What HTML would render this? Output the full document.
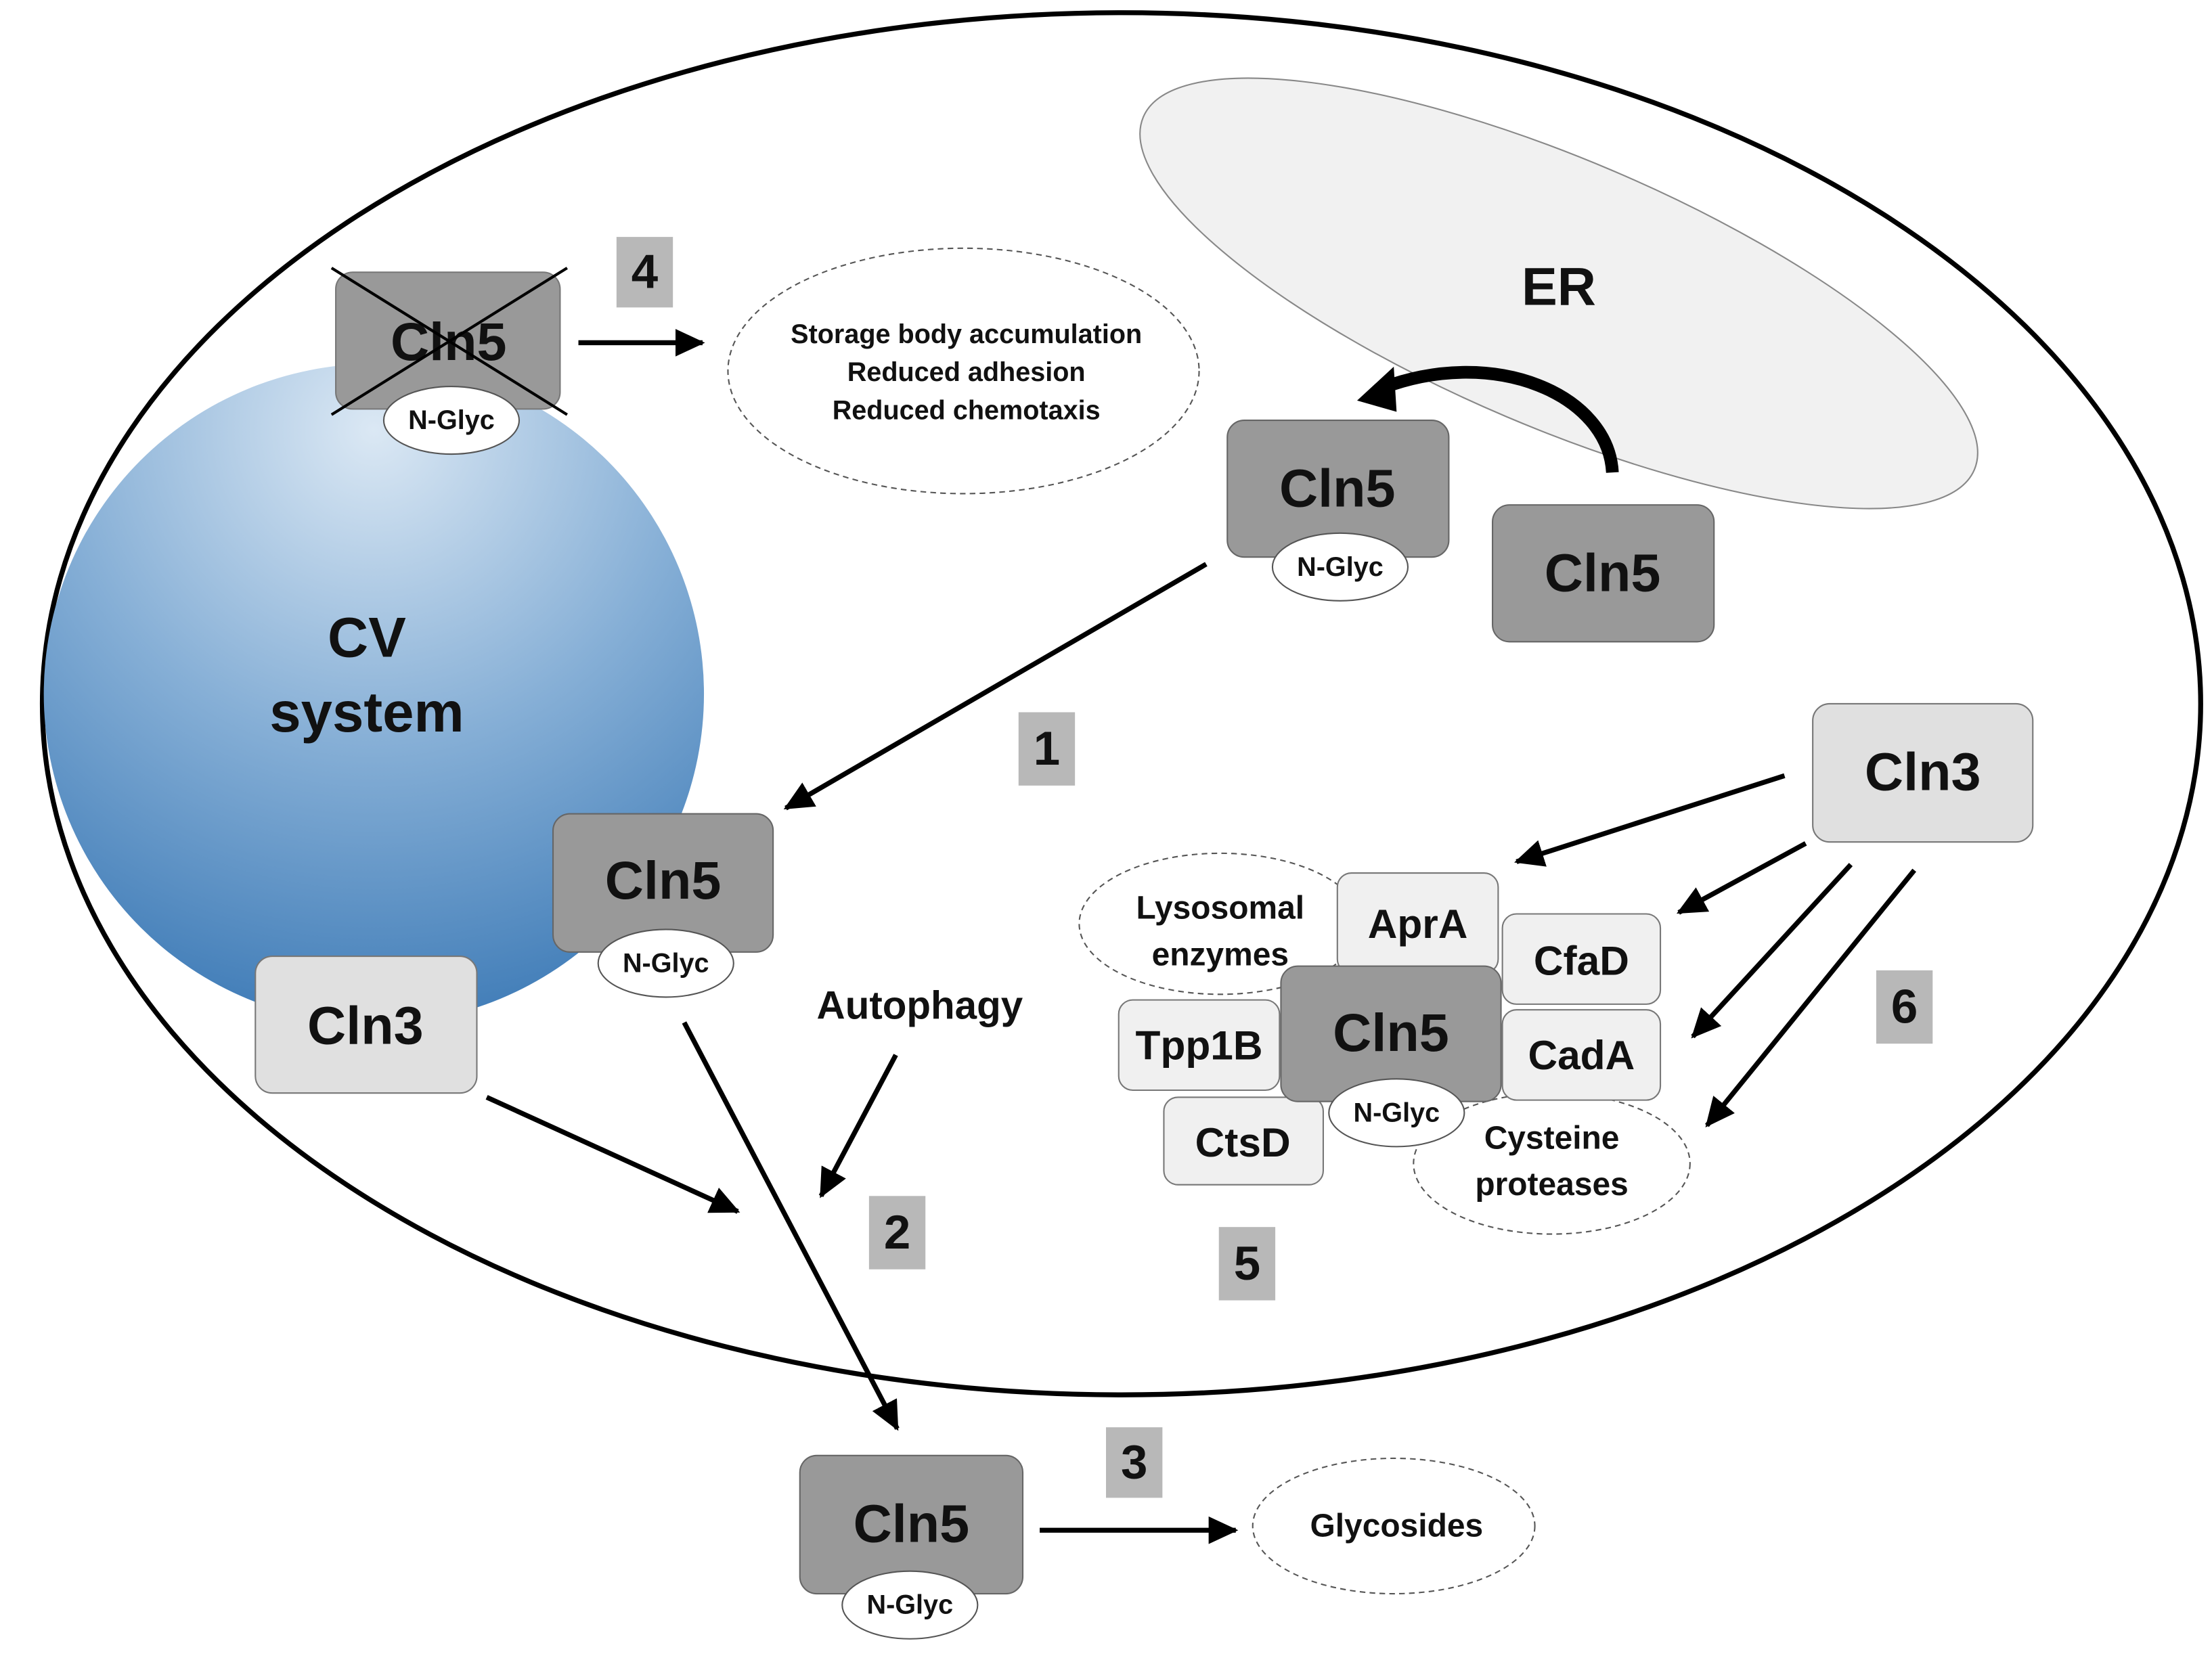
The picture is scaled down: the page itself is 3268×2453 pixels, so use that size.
<!DOCTYPE html>
<html><head><meta charset="utf-8"><style>
html,body{margin:0;padding:0;background:#fff;}
svg{display:block;}
text{font-family:"Liberation Sans",Arial,sans-serif;font-weight:bold;text-anchor:middle;dominant-baseline:central;fill:#111;}
</style></head><body>
<svg width="3268" height="2453" viewBox="0 0 1568 1177" xmlns="http://www.w3.org/2000/svg">
<defs>
<radialGradient id="cv" cx="0.5" cy="0.1" r="0.95">
<stop offset="0" stop-color="#dbe8f4"/><stop offset="0.5" stop-color="#86afd6"/><stop offset="1" stop-color="#3a78b5"/>
</radialGradient>
<marker id="ah" markerWidth="7" markerHeight="7" refX="5.5" refY="3.5" orient="auto" markerUnits="strokeWidth">
<path d="M0,0.7 L6,3.5 L0,6.3 Z" fill="#000"/></marker>
</defs>
<rect width="1568" height="1177" fill="#fff"/>
<ellipse cx="795" cy="499" rx="765" ry="490" fill="#fff" stroke="#000" stroke-width="3.5"/>
<ellipse cx="1105" cy="208" rx="320" ry="95" transform="rotate(23 1105 208)" fill="#f1f1f1" stroke="#888" stroke-width="1"/>
<circle cx="265" cy="492" r="234" fill="url(#cv)"/>
<text x="260" y="452" font-size="40">CV</text>
<text x="260" y="505" font-size="40">system</text>
<text x="1105" y="203" font-size="38">ER</text>

<rect x="238" y="193" width="159" height="97" rx="12" fill="#999" stroke="#777"/>
<text x="318" y="242" font-size="38">Cln5</text>
<ellipse cx="320" cy="298" rx="48" ry="24" fill="#fff" stroke="#555"/>
<text x="320" y="298" font-size="19" font-weight="normal">N-Glyc</text>
<line x1="235" y1="190" x2="402" y2="294" stroke="#000" stroke-width="2"/>
<line x1="402" y1="190" x2="235" y2="294" stroke="#000" stroke-width="2"/>
<rect x="437" y="168" width="40" height="50" fill="#b8b8b8"/><text x="457" y="193" font-size="34">4</text>
<line x1="410" y1="243" x2="498" y2="243" stroke="#000" stroke-width="3.5" marker-end="url(#ah)"/>
<ellipse cx="683" cy="263" rx="167" ry="87" fill="#fff" stroke="#555" stroke-dasharray="4 3"/>
<text x="685" y="237" font-size="19">Storage body accumulation</text>
<text x="685" y="264" font-size="19">Reduced adhesion</text>
<text x="685" y="291" font-size="19">Reduced chemotaxis</text>

<path d="M1143,335 C1140,280 1060,245 980,275" fill="none" stroke="#000" stroke-width="9"/>
<path d="M962,284 L988,260 L990,292 Z" fill="#000"/>
<rect x="870" y="298" width="157" height="97" rx="12" fill="#999" stroke="#666"/>
<text x="948" y="346" font-size="38">Cln5</text>
<ellipse cx="950" cy="402" rx="48" ry="24" fill="#fff" stroke="#555"/>
<text x="950" y="402" font-size="19" font-weight="normal">N-Glyc</text>
<rect x="1058" y="358" width="157" height="97" rx="12" fill="#999" stroke="#666"/>
<text x="1136" y="406" font-size="38">Cln5</text>

<line x1="855" y1="400" x2="557" y2="573" stroke="#000" stroke-width="3.5" marker-end="url(#ah)"/>
<rect x="722" y="505" width="40" height="52" fill="#b8b8b8"/><text x="742" y="531" font-size="34">1</text>

<rect x="392" y="577" width="156" height="98" rx="12" fill="#999" stroke="#666"/>
<text x="470" y="624" font-size="38">Cln5</text>
<ellipse cx="472" cy="683" rx="48" ry="24" fill="#fff" stroke="#555"/>
<text x="472" y="683" font-size="19" font-weight="normal">N-Glyc</text>
<rect x="181" y="678" width="157" height="97" rx="12" fill="#e0e0e0" stroke="#777"/>
<text x="259" y="727" font-size="38">Cln3</text>

<line x1="345" y1="778" x2="523" y2="859" stroke="#000" stroke-width="3.5" marker-end="url(#ah)"/>
<line x1="485" y1="725" x2="636" y2="1013" stroke="#000" stroke-width="3.5" marker-end="url(#ah)"/>
<text x="652" y="713" font-size="28">Autophagy</text>
<line x1="635" y1="748" x2="582" y2="848" stroke="#000" stroke-width="3.5" marker-end="url(#ah)"/>
<rect x="616" y="848" width="40" height="52" fill="#b8b8b8"/><text x="636" y="874" font-size="34">2</text>

<rect x="567" y="1032" width="158" height="98" rx="12" fill="#999" stroke="#666"/>
<text x="646" y="1080" font-size="38">Cln5</text>
<ellipse cx="645" cy="1138" rx="48" ry="24" fill="#fff" stroke="#555"/>
<text x="645" y="1138" font-size="19" font-weight="normal">N-Glyc</text>
<rect x="784" y="1012" width="40" height="50" fill="#b8b8b8"/><text x="804" y="1037" font-size="34">3</text>
<line x1="737" y1="1085" x2="876" y2="1085" stroke="#000" stroke-width="3.5" marker-end="url(#ah)"/>
<ellipse cx="988" cy="1082" rx="100" ry="48" fill="#fff" stroke="#555" stroke-dasharray="4 3"/>
<text x="990" y="1082" font-size="23">Glycosides</text>

<rect x="1285" y="499" width="156" height="98" rx="12" fill="#e0e0e0" stroke="#777"/>
<text x="1363" y="547" font-size="38">Cln3</text>
<line x1="1265" y1="550" x2="1075" y2="611" stroke="#000" stroke-width="3.5" marker-end="url(#ah)"/>
<line x1="1280" y1="598" x2="1190" y2="647" stroke="#000" stroke-width="3.5" marker-end="url(#ah)"/>
<line x1="1312" y1="613" x2="1200" y2="735" stroke="#000" stroke-width="3.5" marker-end="url(#ah)"/>
<line x1="1357" y1="617" x2="1210" y2="798" stroke="#000" stroke-width="3.5" marker-end="url(#ah)"/>
<rect x="1330" y="688" width="40" height="52" fill="#b8b8b8"/><text x="1350" y="714" font-size="34">6</text>

<ellipse cx="865" cy="655" rx="100" ry="50" fill="#fff" stroke="#555" stroke-dasharray="4 3"/>
<text x="865" y="644" font-size="23">Lysosomal</text>
<text x="865" y="677" font-size="23">enzymes</text>
<ellipse cx="1100" cy="825" rx="98" ry="50" fill="#fff" stroke="#555" stroke-dasharray="4 3"/>
<text x="1100" y="807" font-size="23">Cysteine</text>
<text x="1100" y="840" font-size="23">proteases</text>
<rect x="948" y="619" width="114" height="71" rx="10" fill="#f0f0f0" stroke="#777"/>
<text x="1005" y="655" font-size="29">AprA</text>
<rect x="1065" y="648" width="112" height="64" rx="10" fill="#f0f0f0" stroke="#777"/>
<text x="1121" y="681" font-size="29">CfaD</text>
<rect x="1065" y="716" width="112" height="64" rx="10" fill="#f0f0f0" stroke="#777"/>
<text x="1121" y="748" font-size="29">CadA</text>
<rect x="793" y="709" width="114" height="64" rx="10" fill="#f0f0f0" stroke="#777"/>
<text x="850" y="741" font-size="29">Tpp1B</text>
<rect x="825" y="778" width="113" height="62" rx="10" fill="#f0f0f0" stroke="#777"/>
<text x="881" y="810" font-size="29">CtsD</text>
<rect x="908" y="685" width="156" height="96" rx="12" fill="#999" stroke="#666"/>
<text x="986" y="732" font-size="38">Cln5</text>
<ellipse cx="990" cy="789" rx="48" ry="24" fill="#fff" stroke="#555"/>
<text x="990" y="789" font-size="19" font-weight="normal">N-Glyc</text>
<rect x="864" y="870" width="40" height="52" fill="#b8b8b8"/><text x="884" y="896" font-size="34">5</text>
</svg>
</body></html>
